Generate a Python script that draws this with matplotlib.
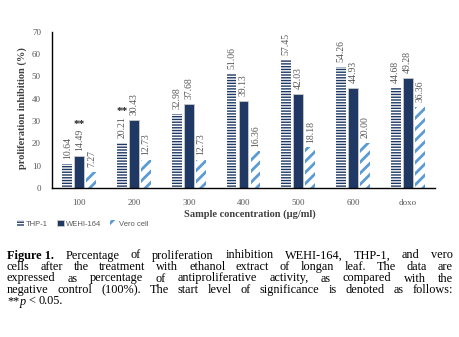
import matplotlib
matplotlib.use("Agg")
import matplotlib.pyplot as plt
import numpy as np

categories = ["100", "200", "300", "400", "500", "600", "doxo"]
series_names = ["THP-1", "WEHI-164", "Vero cell"]
thp1 = [10.64, 20.21, 32.98, 51.06, 57.45, 54.26, 44.68]
wehi = [14.49, 30.43, 37.68, 39.13, 42.03, 44.93, 49.28]
vero = [7.27, 12.73, 12.73, 16.36, 18.18, 20.00, 36.36]
thp1_labels = ["10.64", "20.21", "32.98", "51.06", "57.45", "54.26", "44.68"]
wehi_labels = ["14.49", "30.43", "37.68", "39.13", "42.03", "44.93", "49.28"]
vero_labels = ["7.27", "12.73", "12.73", "16.36", "18.18", "20.00", "36.36"]
# significance markers: (series index, category index)
sig_marks = [(1, 0), (0, 1)]
y_ticks = [0, 10, 20, 30, 40, 50, 60, 70]

NAVY = "#1F3864"
BLUE = "#5B9BD5"
GRAY = "#595959"
SERIF = "Liberation Serif"

plt.rcParams["hatch.linewidth"] = 1.0
fig = plt.figure(figsize=(4.6, 3.37), dpi=100)
ax = fig.add_axes([52 / 460, 1 - 188 / 337, (435 - 52) / 460, (188 - 31.7) / 337])

x = np.arange(len(categories))
w = 0.18
off = 0.22
b1 = ax.bar(x - off, thp1, w, color=NAVY, edgecolor="white", hatch="------", linewidth=0,
            label=series_names[0])
b2 = ax.bar(x, wehi, w, color=NAVY, edgecolor="#C9C9C9", linewidth=0.6, label=series_names[1])

# legend built while thin hatch lines are active
leg = fig.legend([b1, b2], series_names[:2], loc="center left",
                 bbox_to_anchor=(10 / 460, 1 - 224 / 337),
                 ncol=2, frameon=False, handlelength=0.9, handleheight=0.9, handletextpad=0.3,
                 columnspacing=1.2, prop={"family": "Liberation Sans", "size": 5.5})
for t in leg.get_texts():
    t.set_color(GRAY)

plt.rcParams["hatch.linewidth"] = 2.0
b3 = ax.bar(x + off, vero, w, color="white", edgecolor=BLUE, hatch="///", linewidth=0,
            label=series_names[2])
leg2 = fig.legend([b3], series_names[2:], loc="center left",
                  bbox_to_anchor=(103 / 460, 1 - 224 / 337),
                  ncol=1, frameon=False, handlelength=0.9, handleheight=0.9, handletextpad=0.3,
                  prop={"family": "Liberation Sans", "size": 5.5})
for t in leg2.get_texts():
    t.set_color(GRAY)

all_vals = [thp1, wehi, vero]
all_labels = [thp1_labels, wehi_labels, vero_labels]
for s in range(3):
    for i in range(len(categories)):
        ax.annotate(all_labels[s][i], (x[i] + (s - 1) * off, all_vals[s][i]),
                    xytext=(0, 3.5), textcoords="offset points", rotation=90,
                    ha="center", va="bottom", fontsize=7, color=GRAY, family=SERIF)
for s, i in sig_marks:
    ax.annotate("**", (x[i] + (s - 1) * off, all_vals[s][i]),
                xytext=(0, 19), textcoords="offset points",
                ha="center", va="bottom", fontsize=8, color="#222222", family=SERIF,
                fontweight="bold")

ax.set_xlim(-0.5, len(categories) - 0.5)
ax.set_ylim(0, 70)
ax.set_yticks(y_ticks)
ax.set_xticks(x)
ax.set_xticklabels(categories)
ax.tick_params(axis="both", length=0, labelsize=6.5, labelcolor=GRAY)
ax.tick_params(axis="x", pad=8)
ax.tick_params(axis="y", pad=8)
for lab in ax.get_xticklabels() + ax.get_yticklabels():
    lab.set_family(SERIF)
for sp in ["top", "right"]:
    ax.spines[sp].set_visible(False)
ax.spines["left"].set_color("black")
ax.spines["bottom"].set_color("black")
ax.spines["left"].set_linewidth(1.0)
ax.spines["bottom"].set_linewidth(1.0)

fig.text(22 / 460, 1 - 108 / 337, "proliferation inhibition (%)", rotation=90,
         ha="center", va="center", fontsize=7.5, fontweight="bold", color="#404040", family=SERIF)
fig.text(250 / 460, 1 - 214 / 337, "Sample concentration (µg/ml)",
         ha="center", va="center", fontsize=7.5, fontweight="bold", color="#404040", family=SERIF)

# caption with justified lines
caption_lines = [
    [[("Figure 1.", "bold", "normal")], "Percentage", "of", "proliferation", "inhibition", "WEHI-164,", "THP-1,", "and", "vero"],
    ["cells", "after", "the", "treatment", "with", "ethanol", "extract", "of", "longan", "leaf.", "The", "data", "are"],
    ["expressed", "as", "percentage", "of", "antiproliferative", "activity,", "as", "compared", "with", "the"],
    ["negative", "control", "(100%).", "The", "start", "level", "of", "significance", "is", "denoted", "as", "follows:"],
    [[("**", "normal", "normal"), ("p", "normal", "italic")], "<", "0.05."],
]
cap_size = 8.8
left_px, right_px = 7, 453
baselines = [258.5, 270, 281.5, 293, 304.5]
renderer = fig.canvas.get_renderer()

def make_piece(txt, weight, style):
    return fig.text(0, 0, txt, fontsize=cap_size, family=SERIF, fontweight=weight,
                    fontstyle=style, color="black", va="baseline", ha="left")

space_t = make_piece("a a", "normal", "normal")
aa = make_piece("aa", "normal", "normal")
space_w = space_t.get_window_extent(renderer).width - aa.get_window_extent(renderer).width
space_t.remove(); aa.remove()

for li, line in enumerate(caption_lines):
    words = []
    for wd in line:
        pieces = wd if isinstance(wd, list) else [(wd, "normal", "normal")]
        objs = [make_piece(*p) for p in pieces]
        widths = [o.get_window_extent(renderer).width for o in objs]
        words.append((objs, widths))
    total = sum(sum(ws) for _, ws in words)
    n = len(words)
    if li < len(caption_lines) - 1 and n > 1:
        gap = (right_px - left_px - total) / (n - 1)
    else:
        gap = space_w
    xp = left_px
    yb = 1 - baselines[li] / 337
    for objs, ws in words:
        for o, wpx in zip(objs, ws):
            o.set_position((xp / 460, yb))
            xp += wpx
        xp += gap

fig.savefig("out.png", dpi=100)
